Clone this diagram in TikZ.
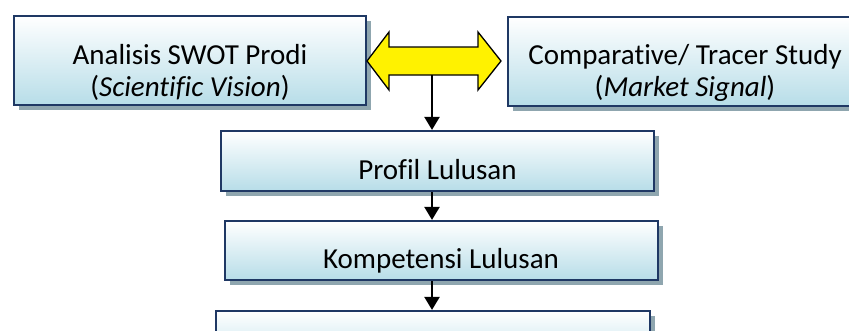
\documentclass[tikz,border=0pt]{standalone}
\usepackage{fontspec}
\setmainfont{Carlito}[Ligatures=NoCommon]
\usetikzlibrary{arrows.meta,shadows,calc}
\definecolor{navy}{HTML}{1F3864}
\definecolor{shadowc}{HTML}{8FA6AF}
\definecolor{lblue}{HTML}{B7DDE8}
\tikzset{
 box/.style={rectangle, draw=navy, line width=2.2pt, top color=white, bottom color=lblue, inner sep=0pt,
   drop shadow={shadow xshift=4.5pt, shadow yshift=-5pt, fill=shadowc, opacity=1}},
 txt/.style={font=\fontsize{29}{32}\selectfont, inner sep=0pt, align=center},
 conn/.style={line width=2.3pt, -{Triangle[width=15pt,length=13pt]}},
 dblarrow/.style={draw=black, line width=1.3pt, fill=yellow, line join=miter},
}
\begin{document}
\begin{tikzpicture}[x=1pt,y=-1pt]
\useasboundingbox (0,0) rectangle (849,330);
% boxes
\node[box, minimum width=352pt, minimum height=89pt] (swot) at (190,60.5) {};
\node[box, minimum width=352pt, minimum height=89pt] (comp) at (684,61.5) {};
\node[box, minimum width=433pt, minimum height=60pt] (profil) at (437.5,161) {};
\node[box, minimum width=433pt, minimum height=59pt] (komp) at (441.5,250.5) {};
\node[box, minimum width=434pt, minimum height=59pt] (nextbox) at (433,340.5) {};
% double arrow
\coordinate (dl) at (367,61);
\coordinate (dr) at (501,61);
\coordinate (dblbot) at (432,75);
\draw[dblarrow] (dl) -- (389,32) -- (389,47) -- (478,47) -- (478,32) -- (dr)
  -- (478,90) -- (478,75) -- (389,75) -- (389,90) -- cycle;
% connectors
\draw[conn] (dblbot) -- (dblbot |- profil.north);
\draw[conn] (dblbot |- profil.south) -- (dblbot |- komp.north);
\draw[conn] (dblbot |- komp.south) -- (dblbot |- nextbox.north);
% texts
\node[txt] (swott) at (190,72) {Analisis SWOT Prodi\\(\textit{Scientific Vision})};
\node[txt] (compt) at (685,73) {Comparative/ Tracer Study\\(\textit{Market Signal})};
\node[txt, anchor=base] (proft) at (437.5,179) {Profil Lulusan};
\node[txt, anchor=base] (kompt) at (441,268) {Kompetensi Lulusan};
\end{tikzpicture}
\end{document}
